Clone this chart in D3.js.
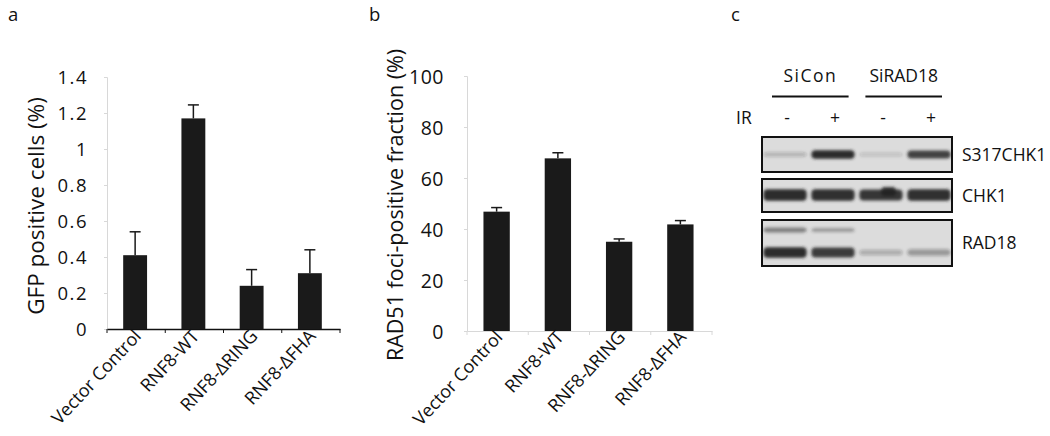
<!DOCTYPE html>
<html><head><meta charset="utf-8">
<script src="https://cdn.jsdelivr.net/npm/d3@7"></script>
<style>
html,body{margin:0;padding:0;background:#fff;}
svg{display:block;font-family:"Open Sans",sans-serif;}
</style></head>
<body>
<svg id="chart" width="1050" height="436"></svg>
<script>
// ---- data ----
const categories = ["Vector Control", "RNF8-WT", "RNF8-\u0394RING", "RNF8-\u0394FHA"];
const gfpValues = [0.41, 1.17, 0.24, 0.31];
const gfpErrors = [0.13, 0.075, 0.09, 0.13];
const gfpTicks = [0, 0.2, 0.4, 0.6, 0.8, 1.0, 1.2, 1.4];
const gfpTickLabels = ["0", "0.2", "0.4", "0.6", "0.8", "1", "1.2", "1.4"];
const rad51Values = [46.8, 67.7, 35.0, 41.8];
const rad51Errors = [1.6, 2.2, 1.1, 1.5];
const rad51Ticks = [0, 20, 40, 60, 80, 100];
const rad51TickLabels = ["0", "20", "40", "60", "80", "100"];
const blotGroups = ["SiCon", "SiRAD18"];
const blotLanes = ["SiCon -", "SiCon +", "SiRAD18 -", "SiRAD18 +"];
const irLabels = ["-", "+", "-", "+"];
const blotRows = ["S317CHK1", "CHK1", "RAD18"];
const bandS317CHK1 = [0.22, 0.95, 0.15, 0.82];
const bandCHK1 = [0.95, 0.93, 0.9, 0.93];
const bandRAD18upper = [0.55, 0.38, 0, 0];
const bandRAD18lower = [0.95, 0.85, 0.25, 0.35];

const svg = d3.select("#chart");
svg.append("rect").attr("width",1050).attr("height",436).attr("fill","#fff");

// panel letters
[["a",8],["b",369],["c",731]].forEach(([t,x])=>{
  svg.append("text").attr("x",x).attr("y",21).attr("font-size",18.5).attr("fill","#111").text(t);
});

function barPanel(opt){
  const g = svg.append("g");
  const x = d3.scaleBand().domain(categories).range([opt.x0,opt.x1]);
  const y = d3.scaleLinear().domain(opt.domain).range([opt.y0,opt.y1]);
  // y axis
  const ya = g.append("g").attr("transform",`translate(${opt.x0},0)`)
    .call(d3.axisLeft(y).tickValues(opt.ticks).tickSize(3).tickFormat((d,i)=>opt.tickLabels[i]));
  ya.select(".domain").attr("stroke","#d8d8d8").attr("stroke-width",1);
  ya.selectAll(".tick line").attr("stroke","#d8d8d8");
  ya.selectAll(".tick text").attr("font-family","Open Sans").attr("font-size",opt.tickFont)
    .attr("letter-spacing",opt.tickSpacing).attr("fill","#111").attr("x",-opt.labelGap).attr("dy","0.36em");
  // x axis
  const xa = g.append("g").attr("transform",`translate(0,${opt.y0})`)
    .call(d3.axisBottom(x).tickSize(0).tickFormat(""));
  xa.select(".domain").attr("stroke",opt.xAxisColor).attr("stroke-width",opt.xAxisWidth);
  xa.selectAll(".tick").remove();
  const bounds = categories.map(c=>x(c)).concat([opt.x1]);
  g.selectAll("line.xt").data(bounds).join("line").attr("class","xt")
    .attr("x1",d=>d).attr("x2",d=>d).attr("y1",opt.y0).attr("y2",opt.y0+4)
    .attr("stroke",opt.xAxisColor).attr("stroke-width",1);
  // bars
  const bw = x.bandwidth()*opt.barFrac;
  g.selectAll("rect.bar").data(opt.values).join("rect").attr("class","bar")
    .attr("x",(d,i)=>x(categories[i])+x.bandwidth()/2-bw/2+opt.barShift)
    .attr("width",bw)
    .attr("y",d=>y(d)).attr("height",d=>y(0)-y(d))
    .attr("fill","#1a1a1a");
  // error bars (upper only)
  const eg = g.selectAll("g.err").data(opt.values).join("g").attr("class","err");
  eg.append("line")
    .attr("x1",(d,i)=>x(categories[i])+x.bandwidth()/2+opt.barShift)
    .attr("x2",(d,i)=>x(categories[i])+x.bandwidth()/2+opt.barShift)
    .attr("y1",d=>y(d)).attr("y2",(d,i)=>y(d+opt.errors[i]))
    .attr("stroke","#1a1a1a").attr("stroke-width",1.5);
  eg.append("line")
    .attr("x1",(d,i)=>x(categories[i])+x.bandwidth()/2+opt.barShift-opt.cap)
    .attr("x2",(d,i)=>x(categories[i])+x.bandwidth()/2+opt.barShift+opt.cap)
    .attr("y1",(d,i)=>y(d+opt.errors[i])).attr("y2",(d,i)=>y(d+opt.errors[i]))
    .attr("stroke","#1a1a1a").attr("stroke-width",1.5);
  // category labels
  g.selectAll("text.cat").data(categories).join("text").attr("class","cat")
    .attr("transform",d=>`translate(${x(d)+x.bandwidth()/2+opt.catDx},${opt.y0+opt.catDy}) rotate(-47)`)
    .attr("text-anchor","end").attr("font-size",opt.catFont).attr("fill","#111")
    .text(d=>d);
  // y title
  g.append("text")
    .attr("transform",`translate(${opt.titleX},${(opt.titleY)}) rotate(-90)`)
    .attr("text-anchor","middle").attr("font-size",opt.titleFont).attr("fill","#111")
    .text(opt.title);
}

barPanel({x0:107,x1:340,y0:329,y1:77,domain:[0,1.4],ticks:gfpTicks,tickLabels:gfpTickLabels,
  values:gfpValues,errors:gfpErrors,barFrac:0.41,barShift:-1,cap:5.5,tickFont:18.5,tickSpacing:1.5,labelGap:19,
  xAxisColor:"#111",xAxisWidth:1.5,catDx:6,catDy:8,catFont:18,
  title:"GFP positive cells (%)",titleX:44,titleY:206,titleFont:22.5});

barPanel({x0:467,x1:712,y0:331,y1:76,domain:[0,100],ticks:rad51Ticks,tickLabels:rad51TickLabels,
  values:rad51Values,errors:rad51Errors,barFrac:0.43,barShift:-1,cap:5.5,tickFont:19.5,tickSpacing:0.5,labelGap:23,
  xAxisColor:"#d8d8d8",xAxisWidth:1,catDx:6,catDy:7,catFont:18,
  title:"RAD51 foci-positive fraction (%)",titleX:403,titleY:205,titleFont:21.5});

// ---- panel c: western blot ----
const defs = svg.append("defs");
defs.append("filter").attr("id","blur").attr("x","-20%").attr("y","-50%").attr("width","140%").attr("height","200%")
  .append("feGaussianBlur").attr("stdDeviation",1.7);

const blotX0 = 762, blotX1 = 952;
const lane = d3.scaleBand().domain(blotLanes).range([blotX0,blotX1]).paddingInner(0.1).paddingOuter(0.03);
const rowBoxes = [{y0:137,y1:172},{y0:179,y1:212},{y0:220,y1:266}];
const rowY = d3.scaleOrdinal().domain(blotRows).range(rowBoxes);
const c = svg.append("g");

// group labels and underlines
const groupX = d3.scaleBand().domain(blotGroups).range([772,942]).paddingInner(0.18);
c.selectAll("text.grp").data(blotGroups).join("text").attr("class","grp")
  .attr("x",d=>groupX(d)+groupX.bandwidth()/2).attr("y",82).attr("text-anchor","middle")
  .attr("font-size",17.5).attr("letter-spacing",(d,i)=>i===0?1.5:0).attr("fill","#111").text(d=>d);
c.selectAll("line.grp").data(blotGroups).join("line").attr("class","grp")
  .attr("x1",d=>groupX(d)).attr("x2",d=>groupX(d)+groupX.bandwidth())
  .attr("y1",96.5).attr("y2",96.5).attr("stroke","#111").attr("stroke-width",2);
c.append("text").attr("x",736).attr("y",124).attr("font-size",17.5).attr("fill","#111").text("IR");
c.selectAll("text.ir").data(irLabels).join("text").attr("class","ir")
  .attr("x",(d,i)=>lane(blotLanes[i])+lane.bandwidth()/2+2).attr("y",124)
  .attr("text-anchor","middle").attr("font-size",17.5).attr("fill","#111").text(d=>d);

// boxes
blotRows.forEach(r=>{
  const b = rowY(r);
  c.append("rect").attr("x",blotX0).attr("y",b.y0).attr("width",blotX1-blotX0).attr("height",b.y1-b.y0)
    .attr("fill","#dcdcdc");
});
const bandG = c.append("g").attr("filter","url(#blur)");
function bands(rowName, vals, yCenter, thick, dark){
  const b = rowY(rowName);
  bandG.selectAll(null).data(vals.map((v,i)=>({v,i})).filter(d=>d.v>0)).join("rect")
    .attr("x",d=>lane(blotLanes[d.i])).attr("width",lane.bandwidth())
    .attr("y",d=>b.y0+yCenter-thick*(0.35+0.65*d.v)/2).attr("height",d=>thick*(0.35+0.65*d.v))
    .attr("rx",4)
    .attr("fill",dark).attr("fill-opacity",d=>d.v);
}
bands("S317CHK1", bandS317CHK1, 17.5, 9, "#222");
bands("CHK1", bandCHK1, 16, 12, "#222");
bands("RAD18", bandRAD18upper, 10, 7, "#333");
bands("RAD18", bandRAD18lower, 32.5, 11, "#222");
// CHK1 lane 3 upward bump
{
  const b = rowY("CHK1");
  const l = blotLanes[2];
  bandG.append("rect").attr("x",lane(l)+lane.bandwidth()*0.5).attr("width",lane.bandwidth()*0.35)
    .attr("y",b.y0+8).attr("height",9).attr("rx",4).attr("fill","#222").attr("fill-opacity",bandCHK1[2]);
}
blotRows.forEach(r=>{
  const b = rowY(r);
  c.append("rect").attr("x",blotX0).attr("y",b.y0).attr("width",blotX1-blotX0).attr("height",b.y1-b.y0)
    .attr("fill","none").attr("stroke","#111").attr("stroke-width",2);
  c.append("text").attr("x",962).attr("y",(b.y0+b.y1)/2).attr("dy","0.36em")
    .attr("font-size",17.5).attr("fill","#111").text(r);
});
</script>
</body></html>
